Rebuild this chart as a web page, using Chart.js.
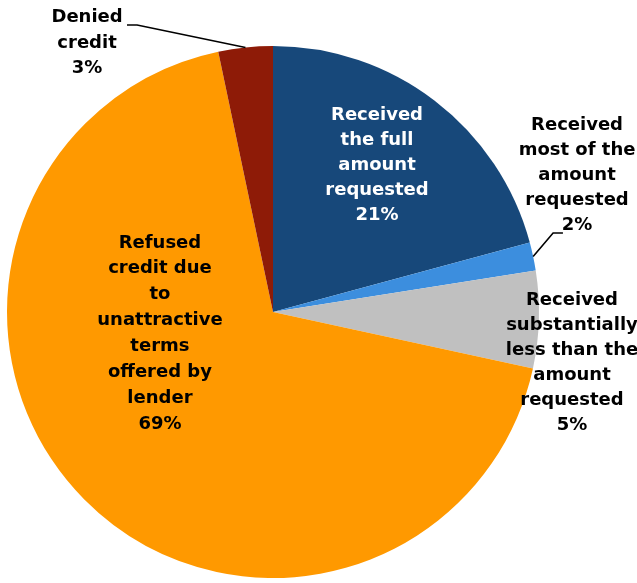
<!DOCTYPE html>
<html>
<head>
<meta charset="utf-8">
<script src="https://cdn.jsdelivr.net/npm/chart.js@4/dist/chart.umd.min.js"></script>
<style>
  html, body { margin: 0; padding: 0; background: #fff; }
  #wrap { width: 637px; height: 583px; }
</style>
</head>
<body>
<div id="wrap"><canvas id="myChart" width="637" height="583"></canvas></div>
<script>
// slice values (clockwise from 12 o'clock)
const categories = [
  "Received the full amount requested",
  "Received most of the amount requested",
  "Received substantially less than the amount requested",
  "Refused credit due to unattractive terms offered by lender",
  "Denied credit"
];
const shares = [20.8, 1.7, 5.9, 68.3, 3.3];
const pctLabels = ["21%", "2%", "5%", "69%", "3%"];
const sliceColors = ["#17487A", "#3C8EDE", "#C0C0C0", "#FF9900", "#8E1B07"];

// label text lines and where they sit, as fractions of the radius from the centre
const labelLayout = [
  { lines: ["Received", "the full", "amount", "requested"], fx: 0.391, fy: -0.553, color: "#fff", lh: 25 },
  { lines: ["Received", "most of the", "amount", "requested"], fx: 1.143, fy: -0.515, color: "#000", lh: 25,
    leader: { ex: 1.053, ey: -0.297, tx: 1.090 } },
  { lines: ["Received", "substantially", "less than the", "amount", "requested"], fx: 1.124, fy: 0.190, color: "#000", lh: 25 },
  { lines: ["Refused", "credit due", "to", "unattractive", "terms", "offered by", "lender"], fx: -0.425, fy: 0.081, color: "#000", lh: 25.9 },
  { lines: ["Denied", "credit"], fx: -0.699, fy: -1.011, color: "#000", lh: 25.5,
    leader: { ex: -0.511, ey: -1.079, tx: -0.549 } }
];

const pieLabels = {
  id: 'pieLabels',
  afterDatasetsDraw(chart) {
    const ctx = chart.ctx;
    const meta = chart.getDatasetMeta(0);
    meta.data.forEach((arc, i) => {
      const cfg = labelLayout[i];
      const R = arc.outerRadius;
      const cx = arc.x, cy = arc.y;
      ctx.save();
      if (cfg.leader) {
        const mid = (arc.startAngle + arc.endAngle) / 2;
        ctx.beginPath();
        ctx.moveTo(cx + Math.cos(mid) * R, cy + Math.sin(mid) * R);
        ctx.lineTo(cx + cfg.leader.ex * R, cy + cfg.leader.ey * R);
        ctx.lineTo(cx + cfg.leader.tx * R, cy + cfg.leader.ey * R);
        ctx.strokeStyle = "#000";
        ctx.lineWidth = 1.6;
        ctx.stroke();
      }
      const lines = cfg.lines.concat([pctLabels[i]]);
      ctx.font = "bold 18px 'DejaVu Sans'";
      ctx.fillStyle = cfg.color;
      ctx.textAlign = "center";
      ctx.textBaseline = "middle";
      const x = cx + cfg.fx * R;
      const y0 = cy + cfg.fy * R - (lines.length - 1) * cfg.lh / 2;
      lines.forEach((t, k) => ctx.fillText(t, x, y0 + k * cfg.lh));
      ctx.restore();
    });
  }
};

new Chart(document.getElementById("myChart"), {
  type: 'pie',
  data: {
    labels: categories,
    datasets: [{
      data: shares,
      backgroundColor: sliceColors,
      borderWidth: 0
    }]
  },
  options: {
    responsive: false,
    animation: false,
    layout: { padding: { left: 7, right: 98, top: 46, bottom: 5 } },
    plugins: {
      legend: { display: false },
      tooltip: { enabled: false }
    }
  },
  plugins: [pieLabels]
});
</script>
</body>
</html>
